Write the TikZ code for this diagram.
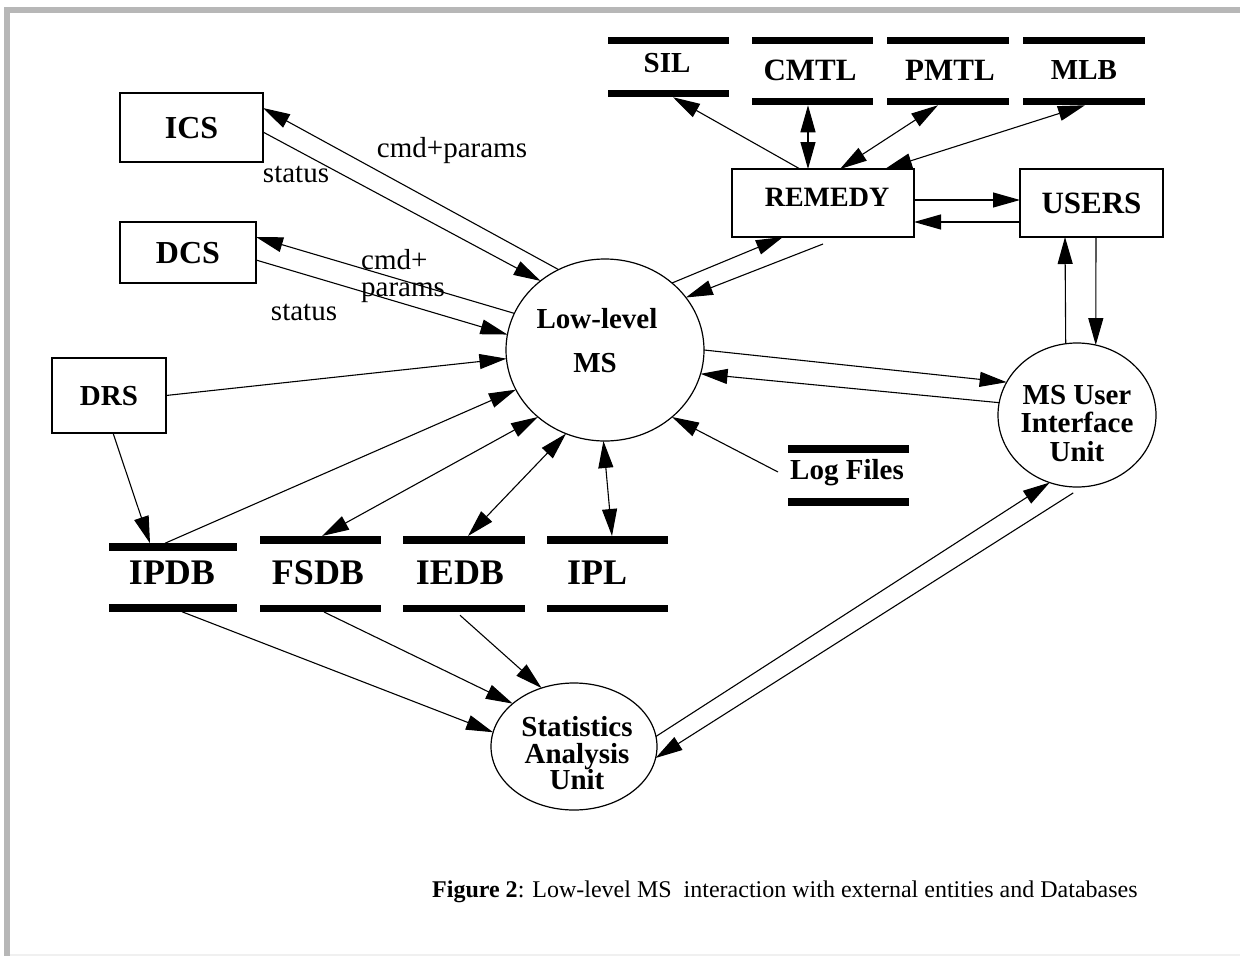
\documentclass[tikz,border=0pt]{standalone}
\usepackage{fontspec}
\setmainfont{Liberation Serif}
\usetikzlibrary{arrows.meta,shapes.geometric,calc}
\definecolor{framegray}{RGB}{183,183,183}
\tikzset{
  tip/.tip={Triangle[length=27pt,width=15pt]},
  lnk/.style={line width=1.1pt, -tip},
  dbl/.style={line width=1.1pt, tip-tip},
  box/.style={draw, line width=1.2pt, rectangle, inner sep=0pt, outer sep=0pt, text depth=0pt},
  ell/.style={draw, line width=1.2pt, ellipse, inner sep=0pt, outer sep=0pt},
  store/.style={rectangle, inner sep=0pt, outer sep=0pt},
  bar/.style={line width=7.5pt},
  lbl/.style={font=\bfseries\fontsize{#1}{#1}\selectfont, inner sep=0pt, text depth=0pt},
  elbl/.style={font=\fontsize{29}{27}\selectfont, inner sep=0pt, text depth=0pt}
}
\begin{document}
\begin{tikzpicture}[x=1pt,y=-1pt]
\useasboundingbox (0,0) rectangle (1240,956);
% frame
\fill[framegray] (4,7) rectangle (1240,13);
\fill[framegray] (4,7) rectangle (10,956);
\fill[gray!12] (10,954) rectangle (1240,956);

% boxes
\node[box, minimum width=143pt, minimum height=69pt, lbl=32] (ics) at (191.5,127.5) {ICS};
\node[box, minimum width=136pt, minimum height=61pt, lbl=32] (dcs) at (188,252.5) {DCS};
\node[box, minimum width=114pt, minimum height=75pt, lbl=29] (drs) at (109,395.5) {DRS};
\node[box, minimum width=182pt, minimum height=68pt] (remedy) at (823,203) {};
\node[lbl=28] (remedyT) at (827,197) {REMEDY};
\node[box, minimum width=143pt, minimum height=68pt, lbl=31] (users) at (1091.5,203) {USERS};

% ellipses
\node[ell, minimum width=198pt, minimum height=182pt] (low) at (605,350) {};
\node[lbl=29] (lowT1) at (597,318) {Low-level};
\node[lbl=29] (lowT2) at (595,363) {MS};
\node[ell, minimum width=158pt, minimum height=144pt] (msui) at (1077,415) {};
\node[lbl=29, align=center, font=\bfseries\fontsize{29}{28.5}\selectfont] (msuiT) at (1077,423) {MS User\\Interface\\Unit};
\node[ell, minimum width=166pt, minimum height=127pt] (stats) at (574,746.5) {};
\node[lbl=29, align=center, font=\bfseries\fontsize{29}{26.5}\selectfont] (statsT) at (577,753) {Statistics\\Analysis\\Unit};

% data stores
\node[store, minimum width=121pt, minimum height=53pt] (sil) at (668.5,67) {};
\node[store, minimum width=121pt, minimum height=61pt] (cmtl) at (812.5,71) {};
\node[store, minimum width=122pt, minimum height=61pt] (pmtl) at (948,71) {};
\node[store, minimum width=122pt, minimum height=61pt] (mlb) at (1084,71) {};
\node[store, minimum width=121pt, minimum height=53pt] (logf) at (848.5,475.5) {};
\node[store, minimum width=128pt, minimum height=61pt] (ipdb) at (173,577.5) {};
\node[store, minimum width=121pt, minimum height=68.5pt] (fsdb) at (320.5,574) {};
\node[store, minimum width=122pt, minimum height=68.5pt] (iedb) at (464,574) {};
\node[store, minimum width=121pt, minimum height=68.5pt] (ipl) at (607.5,574) {};
\foreach \n in {sil,cmtl,pmtl,mlb,logf,ipdb,fsdb,iedb,ipl}{
  \draw[bar] (\n.north west) -- (\n.north east);
  \draw[bar] (\n.south west) -- (\n.south east);
}
\node[lbl=29] (silT) at (667,63) {SIL};
\node[lbl=31] (cmtlT) at (810,70) {CMTL};
\node[lbl=31] (pmtlT) at (950,70) {PMTL};
\node[lbl=29] (mlbT) at (1084,70) {MLB};
\node[lbl=29] (logfT) at (847,469) {Log Files};
\node[lbl=36] (ipdbT) at (172,573) {IPDB};
\node[lbl=36] (fsdbT) at (318,573) {FSDB};
\node[lbl=36] (iedbT) at (460,573) {IEDB};
\node[lbl=36] (iplT) at (597,573) {IPL};

% connectors
\draw[lnk] (low.120) -- ([yshift=19.5pt]ics.east);
\draw[lnk] ([yshift=-4.5pt]ics.east) -- (low.133);
\draw[lnk] (low.158) -- ([yshift=15.5pt]dcs.east);
\draw[lnk] ([yshift=-7.5pt]dcs.east) -- (low.171);
\draw[lnk] (drs.east) -- (low.185);
\draw[lnk] ([xshift=4pt]drs.south) -- ([xshift=-23pt,yshift=3.75pt]ipdb.north);
\draw[lnk] ([xshift=-8pt,yshift=3.75pt]ipdb.north) -- (low.204);
\draw[dbl] ([xshift=1.5pt,yshift=3.75pt]fsdb.north) -- (low.225);
\draw[dbl] ([xshift=4pt,yshift=3.75pt]iedb.north) -- (low.245);
\draw[dbl] ([xshift=4.5pt,yshift=3.75pt]ipl.north) -- (low.269);
\draw[lnk] ([xshift=-10pt,yshift=3.5pt]logf.west) -- (low.315);

\draw[lnk] ([xshift=9pt,yshift=-3.75pt]ipdb.south) -- (stats.170);
\draw[lnk] ([xshift=3.5pt,yshift=-3.75pt]fsdb.south) -- (stats.145);
\draw[lnk] ([xshift=-4pt,yshift=-7pt]iedb.south) -- (stats.119);
\draw[lnk] (stats.7) -- (msui.248);
\draw[lnk] ([yshift=-6pt]msui.267) -- (stats.352);

\draw[lnk] (low.0) -- (msui.155);
\draw[lnk] (msui.171) -- (low.346);
\draw[lnk] (msui.99.5) -- ([xshift=-26.5pt]users.south);
\draw[lnk] ([xshift=4.5pt]users.south) -- (msui.75);

\draw[lnk] ([yshift=3pt]remedy.east) -- ([yshift=3pt]users.west);
\draw[lnk] ([yshift=-19pt]users.west) -- ([yshift=-19pt]remedy.east);
\draw[lnk] (low.45) -- ([xshift=-40pt]remedy.south);
\draw[lnk] ([yshift=-7pt]remedy.south) -- (low.33);
\draw[lnk] ([xshift=-23pt]remedy.north) -- ([xshift=4.5pt,yshift=-3.75pt]sil.south);
\draw[dbl] ([xshift=-15pt]remedy.north) -- ([xshift=-4.5pt,yshift=-3.75pt]cmtl.south);
\draw[dbl] ([xshift=17pt]remedy.north) -- ([xshift=-10pt,yshift=-3.75pt]pmtl.south);
\draw[dbl] ([xshift=62pt]remedy.north) -- ([xshift=1pt,yshift=-3.75pt]mlb.south);

% edge labels
\node[elbl] (l1) at (452,147) {cmd+params};
\node[elbl] (l2) at (296,174) {status};
\node[elbl, align=left, anchor=west] (l3) at (361,273) {cmd+\\params};
\node[elbl] (l4) at (304,312) {status};

% caption
\node[anchor=base west, inner sep=0pt, font=\fontsize{24}{28}\selectfont] (cap) at (432,897) {\textbf{Figure 2}: Low-level MS~ interaction with external entities and Databases};
\end{tikzpicture}
\end{document}
